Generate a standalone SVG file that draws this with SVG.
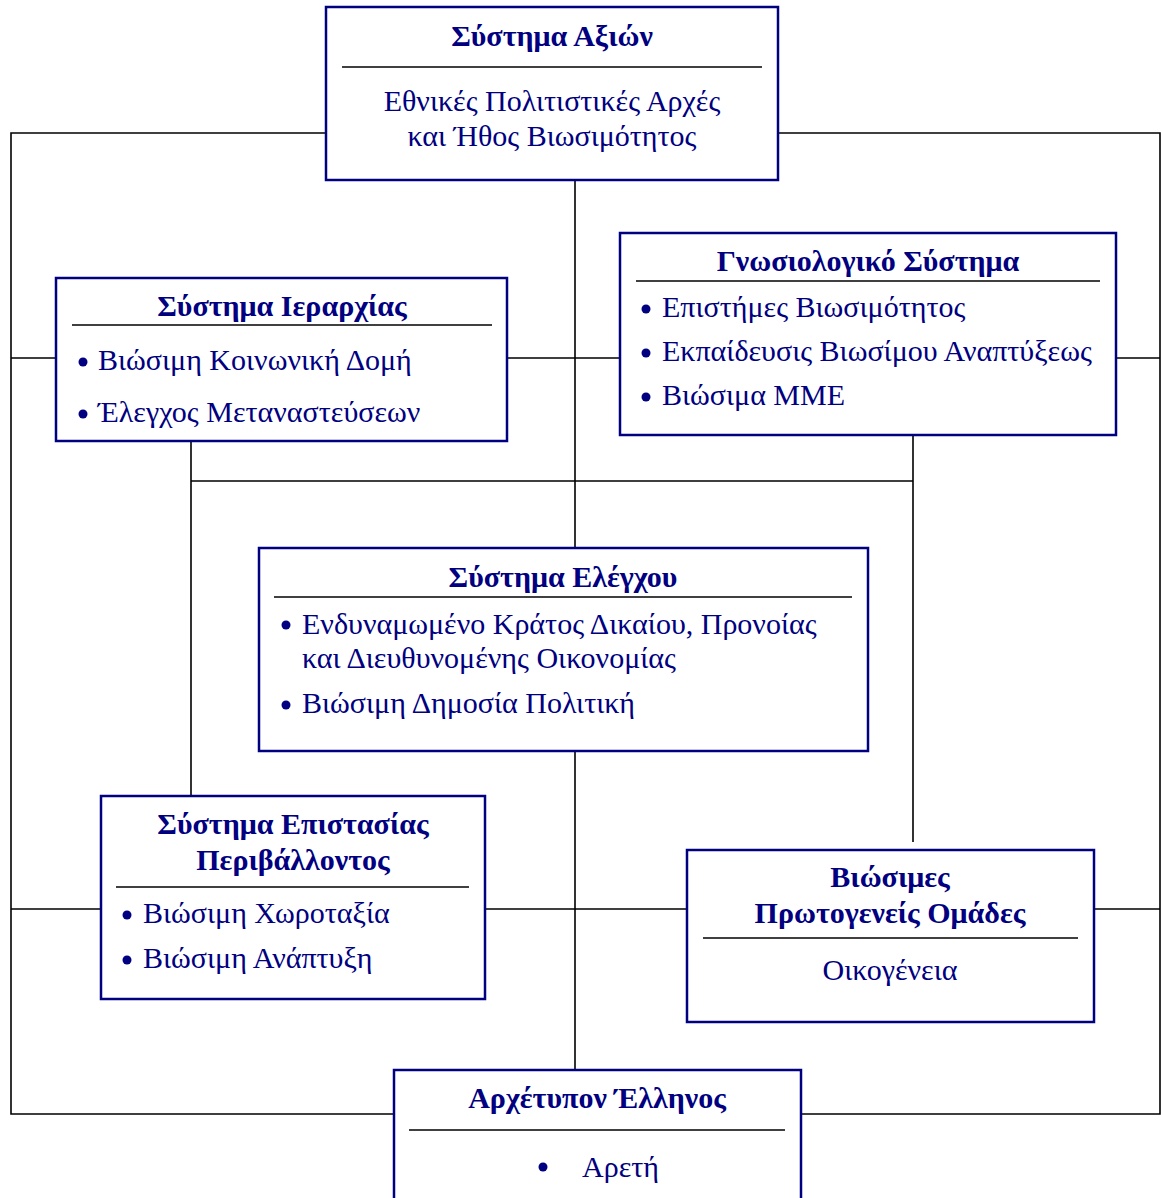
<svg xmlns="http://www.w3.org/2000/svg" width="1161" height="1198" viewBox="0 0 1161 1198">
<style>
.box{fill:#fff;stroke:#000080;stroke-width:2.5}
.sep{stroke:#000;stroke-width:1.6}
.con{stroke:#000;stroke-width:1.6;fill:none}
.t{font-family:"Liberation Serif","Times New Roman",serif;font-size:30px;fill:#000080;font-weight:bold;text-anchor:middle}
.b{font-family:"Liberation Serif","Times New Roman",serif;font-size:30px;fill:#000080}
.c{text-anchor:middle}
.dot{fill:#000080}
</style>
<rect width="1161" height="1198" fill="#fff"/>
<g id="connectors">
<path class="con" d="M326 133H11V1114H394M801 1114H1160V133H778"/>
<path class="con" d="M575 180V548M575 751V1070"/>
<path class="con" d="M11 358H56M507 358H620M1116 358H1160"/>
<path class="con" d="M191 441V796M913 435V842M191 481H913"/>
<path class="con" d="M11 909H101M485 909H687M1094 909H1160"/>
</g>
<g id="n-axion">
<rect class="box" x="326" y="7" width="452" height="173"/>
<text class="t" x="552" y="46">Σύστημα Αξιών</text>
<line class="sep" x1="342" y1="67" x2="762" y2="67"/>
<text class="b c" x="552" y="111">Εθνικές Πολιτιστικές Αρχές</text>
<text class="b c" x="552" y="146">και Ήθος Βιωσιμότητος</text>
</g>
<g id="n-ierarchia">
<rect class="box" x="56" y="278" width="451" height="163"/>
<text class="t" x="282" y="316">Σύστημα Ιεραρχίας</text>
<line class="sep" x1="72" y1="325" x2="492" y2="325"/>
<circle class="dot" cx="83" cy="362" r="4.5"/>
<text class="b" x="98" y="370">Βιώσιμη Κοινωνική Δομή</text>
<circle class="dot" cx="83" cy="414" r="4.5"/>
<text class="b" x="98" y="422">Έλεγχος Μεταναστεύσεων</text>
</g>
<g id="n-gnosiologiko">
<rect class="box" x="620" y="233" width="496" height="202"/>
<text class="t" x="868" y="271">Γνωσιολογικό Σύστημα</text>
<line class="sep" x1="636" y1="281" x2="1100" y2="281"/>
<circle class="dot" cx="646" cy="309" r="4.5"/>
<text class="b" x="662" y="317">Επιστήμες Βιωσιμότητος</text>
<circle class="dot" cx="646" cy="353" r="4.5"/>
<text class="b" x="662" y="361">Εκπαίδευσις Βιωσίμου Αναπτύξεως</text>
<circle class="dot" cx="646" cy="397" r="4.5"/>
<text class="b" x="662" y="405">Βιώσιμα ΜΜΕ</text>
</g>
<g id="n-elegxou">
<rect class="box" x="259" y="548" width="609" height="203"/>
<text class="t" x="563" y="587">Σύστημα Ελέγχου</text>
<line class="sep" x1="274" y1="597" x2="852" y2="597"/>
<circle class="dot" cx="286" cy="625" r="4.5"/>
<text class="b" x="302" y="634">Ενδυναμωμένο Κράτος Δικαίου, Προνοίας</text>
<text class="b" x="302" y="668">και Διευθυνομένης Οικονομίας</text>
<circle class="dot" cx="286" cy="705" r="4.5"/>
<text class="b" x="302" y="713">Βιώσιμη Δημοσία Πολιτική</text>
</g>
<g id="n-epistasia">
<rect class="box" x="101" y="796" width="384" height="203"/>
<text class="t" x="293" y="834">Σύστημα Επιστασίας</text>
<text class="t" x="293" y="870">Περιβάλλοντος</text>
<line class="sep" x1="116" y1="887" x2="469" y2="887"/>
<circle class="dot" cx="127" cy="915" r="4.5"/>
<text class="b" x="143" y="923">Βιώσιμη Χωροταξία</text>
<circle class="dot" cx="127" cy="960" r="4.5"/>
<text class="b" x="143" y="968">Βιώσιμη Ανάπτυξη</text>
</g>
<g id="n-protogeneis">
<rect class="box" x="687" y="850" width="407" height="172"/>
<text class="t" x="890" y="887">Βιώσιμες</text>
<text class="t" x="890" y="923">Πρωτογενείς Ομάδες</text>
<line class="sep" x1="703" y1="938" x2="1078" y2="938"/>
<text class="b c" x="890" y="980">Οικογένεια</text>
</g>
<g id="n-archetypon">
<rect class="box" x="394" y="1070" width="407" height="140"/>
<text class="t" x="597" y="1108">Αρχέτυπον Έλληνος</text>
<line class="sep" x1="409" y1="1130" x2="785" y2="1130"/>
<circle class="dot" cx="543" cy="1167" r="4.5"/>
<text class="b" x="582" y="1177">Αρετή</text>
</g>
</svg>
